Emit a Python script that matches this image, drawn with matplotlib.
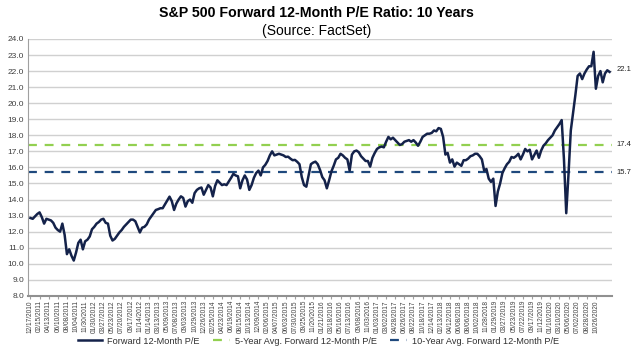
import matplotlib
matplotlib.use("Agg")
import matplotlib.pyplot as plt
import numpy as np

plt.rcParams['font.family'] = ['Liberation Sans', 'DejaVu Sans']

# forward 12-month P/E, one reading about every 10 trading days (12/2010 - 12/2020)
pe = [
    12.85, 12.8, 12.95, 13.1, 13.2, 12.9, 12.5, 12.8, 12.75, 12.7,
    12.55, 12.25, 12.1, 12.0, 12.5, 11.8, 10.6, 10.9, 10.5, 10.2,
    10.7, 11.3, 11.5, 10.9, 11.4, 11.5, 11.7, 12.15, 12.3, 12.5,
    12.6, 12.75, 12.8, 12.55, 12.5, 11.75, 11.45, 11.55, 11.75, 11.95,
    12.1, 12.3, 12.45, 12.6, 12.75, 12.75, 12.65, 12.3, 11.95, 12.25,
    12.3, 12.45, 12.75, 12.95, 13.15,
    13.35, 13.4, 13.46, 13.46, 13.7, 13.95, 14.18, 13.9, 13.35, 13.75,
    14.0, 14.2, 14.1, 13.56, 13.9, 14.0, 13.8, 14.4, 14.6, 14.7,
    14.75, 14.3, 14.6, 14.9, 14.75, 14.2, 14.85, 15.2, 15.05, 14.9,
    14.95, 14.9, 15.12, 15.35, 15.6, 15.5, 15.45, 14.7, 15.2, 15.5,
    15.25, 14.6, 14.9, 15.35, 15.65, 15.8, 15.5, 16.0, 16.16, 16.4,
    16.75, 17.0,
    16.75, 16.8, 16.85, 16.8, 16.75, 16.65, 16.67, 16.55, 16.45, 16.47,
    16.35, 16.2, 15.4, 14.9, 14.8, 15.5, 16.2, 16.3, 16.36, 16.2,
    15.85, 15.4, 15.2, 14.7, 15.2, 15.75, 16.1, 16.5, 16.6, 16.85,
    16.75, 16.6, 16.5, 15.8, 16.8, 17.0, 17.05, 16.95, 16.7, 16.55,
    16.4, 16.4, 16.05, 16.6, 16.9, 17.15, 17.25, 17.3, 17.25, 17.6,
    17.9, 17.75,
    17.85, 17.7, 17.55, 17.4, 17.45, 17.6, 17.65, 17.7, 17.6, 17.7,
    17.55, 17.35, 17.6, 17.9, 18.0, 18.1, 18.1, 18.15, 18.3, 18.25,
    18.45, 18.4, 17.9, 16.8, 16.9, 16.3, 16.5, 16.05, 16.3, 16.2,
    16.1, 16.45, 16.45, 16.55, 16.7, 16.75, 16.85, 16.85, 16.7, 16.5,
    15.8, 15.9, 15.3, 15.1, 15.3, 13.6, 14.5, 15.0, 15.65, 15.95,
    16.2, 16.35, 16.65,
    16.6, 16.7, 16.85, 16.5, 16.8, 17.15, 17.0, 17.1, 16.5, 16.78,
    17.05, 16.6, 17.05, 17.35, 17.5, 17.7, 17.85, 18.0, 18.3, 18.5,
    18.7, 18.95, 16.5, 13.15, 15.6, 18.3, 19.4, 20.5, 21.7, 21.85,
    21.5, 21.85, 22.1, 22.3, 22.3, 23.2, 20.9, 21.7, 22.0, 21.3,
    21.85, 22.05, 21.95,
]

avg_5yr = 17.4
avg_10yr = 15.7
last_label = 22.1

tick_dates = [
    '12/17/2010', '02/15/2011', '04/13/2011', '06/10/2011', '08/08/2011', '10/04/2011',
    '11/30/2011', '01/30/2012', '03/27/2012', '05/23/2012', '07/20/2012', '09/17/2012',
    '11/14/2012', '01/14/2013', '03/13/2013', '05/09/2013', '07/08/2013', '09/03/2013',
    '10/29/2013', '12/26/2013', '02/25/2014', '04/23/2014', '06/19/2014', '08/15/2014',
    '10/13/2014', '12/09/2014', '02/06/2015', '04/07/2015', '06/03/2015', '07/30/2015',
    '09/25/2015', '11/20/2015', '01/21/2016', '03/18/2016', '05/16/2016', '07/13/2016',
    '09/08/2016', '11/03/2016', '01/03/2017', '03/02/2017', '04/28/2017', '06/26/2017',
    '08/22/2017', '10/18/2017', '12/14/2017', '02/13/2018', '04/12/2018', '06/08/2018',
    '08/06/2018', '10/02/2018', '11/28/2018', '01/29/2019', '03/27/2019', '05/23/2019',
    '07/22/2019', '09/17/2019', '11/12/2019', '01/10/2020', '03/10/2020', '05/06/2020',
    '07/02/2020', '08/28/2020', '10/26/2020',
]
tick_step = 4  # one label every 4 readings (~40 trading days)

navy = '#14224a'
green = '#92d050'
blue_dash = '#1f497d'

fig = plt.figure(figsize=(6.4, 3.51), dpi=100)
ax = fig.add_axes([0.044, 0.157, 0.912, 0.732])

x = np.arange(len(pe))
ax.set_xlim(-1, len(pe))
ax.set_ylim(8, 24)
ax.set_yticks(np.arange(8, 25, 1))
ax.set_yticklabels(['%.1f' % v for v in np.arange(8, 25, 1)], fontsize=6, color='#404040')
ax.yaxis.grid(True, color='#d0d0d0', lw=1.0)
ax.set_axisbelow(True)

l5, = ax.plot([-1, len(pe)], [avg_5yr, avg_5yr], color=green, lw=1.6, ls=(0, (4, 3.5)))
l10, = ax.plot([-1, len(pe)], [avg_10yr, avg_10yr], color=blue_dash, lw=1.6, ls=(0, (4, 3.5)))
lpe, = ax.plot(x, pe, color=navy, lw=1.8)

ax.set_xticks(x[::tick_step][:len(tick_dates)])
ax.set_xticklabels(tick_dates, rotation=90, fontsize=4.7, color='#404040')
ax.tick_params(axis='x', length=2, color='#a0a0a0', pad=1)
ax.tick_params(axis='y', length=0, pad=3)

for s in ['top', 'right']:
    ax.spines[s].set_visible(False)
ax.spines['left'].set_color('#a0a0a0')
ax.spines['bottom'].set_color('#909090')
ax.spines['bottom'].set_linewidth(1.5)

for v in [last_label, avg_5yr, avg_10yr]:
    ax.annotate('%.1f' % v, xy=(1.008, v), xycoords=('axes fraction', 'data'),
                fontsize=5.5, va='center', ha='left', color='#202020')

fig.text(0.494, 0.962, 'S&P 500 Forward 12-Month P/E Ratio: 10 Years', ha='center', va='center',
         fontsize=10.2, fontweight='bold')
fig.text(0.494, 0.911, '(Source: FactSet)', ha='center', va='center', fontsize=10)

# three legend entries placed where the reference has them
entries = [(lpe, 'Forward 12-Month P/E', 78, 2.65),
           (l5, '5-Year Avg. Forward 12-Month P/E', 213, 1.85),
           (l10, '10-Year Avg. Forward 12-Month P/E', 390, 1.85)]
for h, lab, px, hl in entries:
    leg = fig.legend([h], [lab], loc='center left', bbox_to_anchor=(px / 640, 10 / 351),
                     frameon=False, fontsize=6.6, handlelength=hl, handletextpad=0.5,
                     borderpad=0, borderaxespad=0)
    for t in leg.get_texts():
        t.set_color('#303030')

fig.savefig('out.png', dpi=100)
